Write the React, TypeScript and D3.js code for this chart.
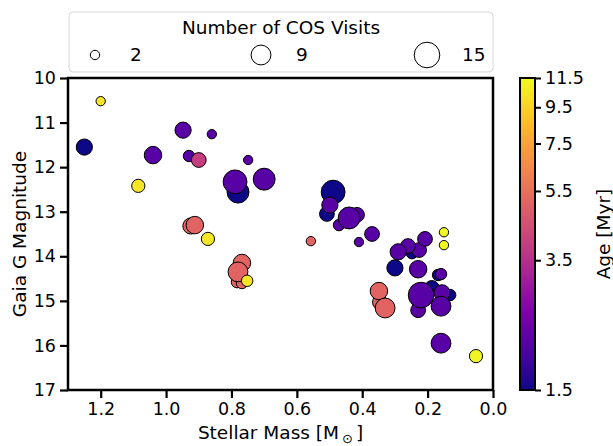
import React, { useEffect, useRef } from "react";
import * as d3 from "d3";

// star data, in plotting order
const mass = [
  1.2, 1.25, 1.085, 0.948, 1.04, 0.93, 0.9, 0.86, 0.749, 0.78, 0.789, 0.7,
  0.924, 0.912, 0.872, 0.783, 0.768, 0.768, 0.78, 0.752,
  0.489, 0.508, 0.499, 0.416, 0.471, 0.44, 0.557, 0.41, 0.37, 0.15, 0.15,
  0.248, 0.226, 0.208, 0.26, 0.29, 0.3, 0.229, 0.168, 0.159,
  0.346, 0.349, 0.33, 0.187, 0.131, 0.156, 0.229, 0.22, 0.159, 0.159, 0.052,
];
const gmag = [
  10.52, 11.55, 12.42, 11.17, 11.73, 11.75, 11.84, 11.26, 11.84, 12.56, 12.33, 12.27,
  13.32, 13.3, 13.61, 14.58, 14.6, 14.15, 14.35, 14.55,
  12.56, 13.05, 12.85, 13.07, 13.3, 13.14, 13.66, 13.68, 13.5, 13.46, 13.75,
  13.93, 13.86, 13.61, 13.77, 13.9, 14.26, 14.29, 14.42, 14.4,
  15.03, 14.78, 15.16, 14.71, 14.87, 14.82, 15.21, 14.87, 15.12, 15.95, 16.24,
];
const visits = [
  2, 6, 4, 6, 7, 3, 5, 2, 2, 11, 13, 11,
  6, 7, 4, 3, 3, 7, 9, 3,
  13, 5, 6, 5, 3, 11, 2, 2, 5, 2, 2,
  3, 5, 5, 5, 6, 6, 7, 3, 3,
  5, 7, 9, 5, 3, 6, 5, 15, 9, 9, 4,
];
const age = [
  10.5, 1.5, 10.5, 2.05, 2.05, 2.05, 3.9, 2.05, 2.05, 1.5, 2.05, 2.05,
  5.1, 5.1, 10.5, 5.1, 5.1, 5.1, 5.1, 10.5,
  1.5, 1.5, 2.05, 2.05, 2.05, 2.05, 5.1, 2.05, 2.05, 11.5, 11.5,
  1.5, 2.05, 2.05, 2.05, 2.05, 1.5, 2.05, 1.5, 2.05,
  5.1, 5.1, 5.1, 1.5, 1.5, 2.05, 2.05, 2.05, 2.05, 2.05, 11.3,
];

const xTicks = [1.2, 1.0, 0.8, 0.6, 0.4, 0.2, 0.0];
const yTicks = [10, 11, 12, 13, 14, 15, 16, 17];
const ageTicks = [1.5, 3.5, 5.5, 7.5, 9.5, 11.5];
const legendVisits = [2, 9, 15];

const FONT = "DejaVu Sans, sans-serif";

const App = () => {
  const svgRef = useRef<SVGSVGElement>(null);

  useEffect(() => {
    const width = 613;
    const height = 446;
    const margin = { top: 78, right: 120, bottom: 56, left: 68 };
    const innerW = width - margin.left - margin.right;
    const innerH = height - margin.top - margin.bottom;

    const svg = d3.select(svgRef.current);
    svg.selectAll("*").remove();
    svg.attr("width", width).attr("height", height);

    const xScale = d3.scaleLinear().domain([1.3, 0]).range([margin.left, margin.left + innerW]);
    const yScale = d3.scaleLinear().domain([10, 17]).range([margin.top, margin.top + innerH]);
    const rScale = d3.scaleSqrt().domain([0, 15]).range([0, 12.8]);
    const colorScale = d3.scaleSequentialLog(d3.interpolatePlasma).domain([1.5, 11.5]);

    const points = mass.map((m, i) => ({ m, g: gmag[i], v: visits[i], a: age[i] }));

    svg
      .append("g")
      .selectAll("circle")
      .data(points)
      .join("circle")
      .attr("cx", (d) => xScale(d.m))
      .attr("cy", (d) => yScale(d.g))
      .attr("r", (d) => rScale(d.v))
      .attr("fill", (d) => colorScale(d.a))
      .attr("stroke", "black")
      .attr("stroke-width", 1);

    // axes
    const xAxis = svg
      .append("g")
      .attr("transform", `translate(0, ${margin.top + innerH})`)
      .call(
        d3.axisBottom(xScale).tickValues(xTicks).tickFormat(d3.format(".1f")).tickSize(8).tickPadding(5)
      );
    const yAxis = svg
      .append("g")
      .attr("transform", `translate(${margin.left}, 0)`)
      .call(d3.axisLeft(yScale).tickValues(yTicks).tickFormat(d3.format("d")).tickSize(8).tickPadding(4));

    [xAxis, yAxis].forEach((ax) => {
      ax.select(".domain").remove();
      ax.selectAll("line").attr("stroke", "black").attr("stroke-width", 2.2);
      ax.selectAll("text").attr("font-family", FONT).attr("font-size", 17.5).attr("fill", "black");
    });

    svg
      .append("rect")
      .attr("x", margin.left)
      .attr("y", margin.top)
      .attr("width", innerW)
      .attr("height", innerH)
      .attr("fill", "none")
      .attr("stroke", "black")
      .attr("stroke-width", 2.5);

    // axis labels
    const xLabel = svg
      .append("text")
      .attr("x", margin.left + innerW / 2)
      .attr("y", 439)
      .attr("text-anchor", "middle")
      .attr("font-family", FONT)
      .attr("font-size", 18.5)
      .text("Stellar Mass [M");
    xLabel.append("tspan").attr("dx", 3).attr("dy", 4).attr("font-size", 13).text("⊙");
    xLabel.append("tspan").attr("dx", 3).attr("dy", -4).text("]");

    svg
      .append("text")
      .attr("transform", `translate(26, ${margin.top + innerH / 2}) rotate(-90)`)
      .attr("text-anchor", "middle")
      .attr("font-family", FONT)
      .attr("font-size", 18.5)
      .text("Gaia G Magnitude");

    // colorbar
    const cb = { x: 520, w: 15 };
    const cbScale = d3.scaleLog().domain([1.5, 11.5]).range([margin.top + innerH, margin.top]);
    const grad = svg
      .append("defs")
      .append("linearGradient")
      .attr("id", "plasma")
      .attr("x1", 0)
      .attr("y1", 1)
      .attr("x2", 0)
      .attr("y2", 0);
    d3.range(0, 1.0001, 0.05).forEach((t) => {
      grad.append("stop").attr("offset", t).attr("stop-color", d3.interpolatePlasma(t));
    });
    svg
      .append("rect")
      .attr("x", cb.x)
      .attr("y", margin.top)
      .attr("width", cb.w)
      .attr("height", innerH)
      .attr("fill", "url(#plasma)")
      .attr("stroke", "black")
      .attr("stroke-width", 2);

    const cbAxis = svg
      .append("g")
      .attr("transform", `translate(${cb.x + cb.w}, 0)`)
      .call(d3.axisRight(cbScale).tickValues(ageTicks).tickFormat(d3.format(".1f")).tickSize(6).tickPadding(4));
    cbAxis.select(".domain").remove();
    cbAxis.selectAll("line").attr("stroke", "black").attr("stroke-width", 2);
    cbAxis.selectAll("text").attr("font-family", FONT).attr("font-size", 17.5).attr("fill", "black");

    svg
      .append("text")
      .attr("transform", `translate(610, ${margin.top + innerH / 2}) rotate(-90)`)
      .attr("text-anchor", "middle")
      .attr("font-family", FONT)
      .attr("font-size", 18.5)
      .text("Age [Myr]");

    // size legend
    const legend = svg.append("g");
    legend
      .append("rect")
      .attr("x", 69)
      .attr("y", 12)
      .attr("width", 424)
      .attr("height", 60)
      .attr("rx", 4)
      .attr("fill", "white")
      .attr("stroke", "#d6d6d6")
      .attr("stroke-width", 1);
    legend
      .append("text")
      .attr("x", 281)
      .attr("y", 34)
      .attr("text-anchor", "middle")
      .attr("font-family", FONT)
      .attr("font-size", 18.5)
      .text("Number of COS Visits");

    const legendX = [95, 261, 427];
    legendVisits.forEach((v, i) => {
      legend
        .append("circle")
        .attr("cx", legendX[i])
        .attr("cy", 55)
        .attr("r", rScale(v))
        .attr("fill", "white")
        .attr("stroke", "black")
        .attr("stroke-width", 1);
      legend
        .append("text")
        .attr("x", legendX[i] + 35)
        .attr("y", 61)
        .attr("font-family", FONT)
        .attr("font-size", 18.5)
        .text(v);
    });
  }, []);

  return <svg ref={svgRef} style={{ position: "absolute", left: 0, top: 0 }}></svg>;
};

export default App;
